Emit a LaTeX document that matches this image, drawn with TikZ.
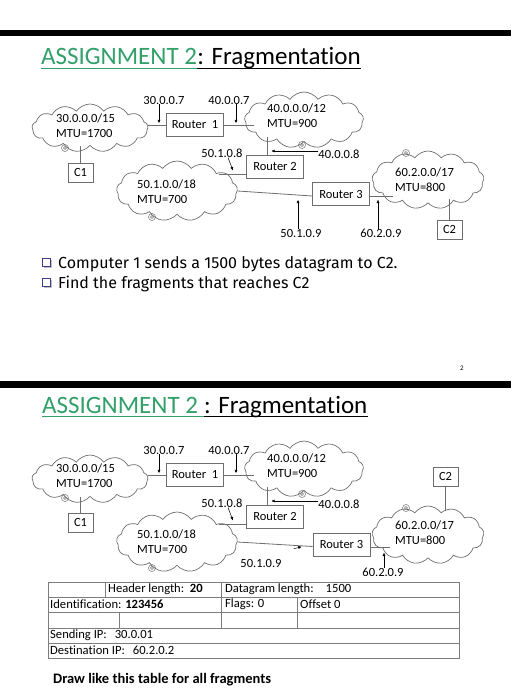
\documentclass[tikz,border=0pt]{standalone}
\usepackage{fontspec}
\setmainfont[Ligatures=NoCommon]{Carlito}
\newfontfamily\bulletfont{Fira Sans}
\usetikzlibrary{shapes.symbols,arrows.meta,positioning}

\definecolor{titlegreen}{RGB}{50,160,105}
\definecolor{linegray}{RGB}{110,110,110}
\definecolor{tablegray}{RGB}{125,125,125}
\definecolor{bulletblue}{RGB}{60,60,140}

\tikzset{
  heading/.style={inner sep=0pt, anchor=base west, font=\fontsize{25}{30}\selectfont},
  netcloud/.style={cloud, cloud puffs=13, cloud puff arc=110, cloud ignores aspect, draw=linegray, line width=0.7pt, inner sep=0pt},
  netlabel/.style={align=left, inner sep=0pt, anchor=west, font=\fontsize{12.5}{15}\selectfont},
  router/.style={draw=linegray, line width=0.7pt, minimum width=57pt, minimum height=23pt, inner sep=0pt, font=\fontsize{12.5}{15}\selectfont},
  pc/.style={draw=linegray, line width=0.7pt, minimum width=25pt, minimum height=19pt, inner sep=0pt, font=\fontsize{12.5}{15}\selectfont},
  addr/.style={inner sep=0pt, font=\fontsize{12.5}{15}\selectfont},
  link/.style={draw=linegray, line width=0.8pt},
  pin/.style={draw=black, line width=0.5pt, -{Latex[length=3.5pt,width=3pt]}},
  curl/.style={draw=linegray, line width=0.5pt},
  bullettext/.style={inner sep=0pt, anchor=base west, font=\bulletfont\fontsize{16}{18}\selectfont},
  cell/.style={inner sep=0pt, anchor=west, font=\fontsize{12.6}{14}\selectfont},
}

\begin{document}
\begin{tikzpicture}[x=1pt, y=-1pt]

  \useasboundingbox (0,0) rectangle (511,700);

  % The black bars between the slides
  \fill (0,30) rectangle (511,36);
  \fill (0,381) rectangle (511,388);

  % ---------------- first slide ----------------
  \node[heading] (title1a) at (41,65) {\color{titlegreen}ASSIGNMENT 2};
  \node[heading] (title1b) at (title1a.base east) {: Fragmentation};
  \draw[titlegreen, line width=0.8pt] ([yshift=-3pt]title1a.base west) -- ([yshift=-3pt]title1a.base east);
  \draw[line width=0.8pt] ([yshift=-3pt]title1b.base west) -- ([yshift=-3pt]title1b.base east);

  % The four networks
  \node[netcloud, minimum width=116pt, minimum height=48pt] (net1) at (90,128) {};
  \node[netcloud, minimum width=119pt, minimum height=56pt] (net2) at (304,120) {};
  \node[netcloud, minimum width=121pt, minimum height=60pt] (net3) at (177,191) {};
  \node[netcloud, minimum width=112pt, minimum height=58pt] (net4) at (428,180) {};
  \node[netlabel] (net1txt) at (56,125.5) {30.0.0.0/15\\MTU=1700};
  \node[netlabel] (net2txt) at (267,115.5) {40.0.0.0/12\\MTU=900};
  \node[netlabel] (net3txt) at (137,192) {50.1.0.0/18\\MTU=700};
  \node[netlabel] (net4txt) at (395,180) {60.2.0.0/17\\MTU=800};

  % Small curls on the clouds
  \draw[curl] (65,148) circle (3.5) (65,148) circle (1.5);
  \draw[curl] (302,145) circle (3.5) (302,145) circle (1.5);
  \draw[curl] (152,217) circle (3.5) (152,217) circle (1.5);
  \draw[curl] (406,153) circle (3.5) (406,153) circle (1.5);

  % Routers and computers
  \node[router] (router1) at (195,125) {Router~ 1};
  \node[router] (router2) at (275,166.5) {Router 2};
  \node[router] (router3) at (341,194) {Router 3};
  \node[pc] (pc1) at (80.5,172.5) {C1};
  \node[pc] (pc2) at (449.5,229.5) {C2};

  % Links
  \draw[link] (pc1.north) -- (pc1.north |- net1.south);
  \draw[link] (router1.west) -- (router1.west -| net1.east);
  \draw[link] (router1.east) -- ++(30,0);
  \draw[link] ([xshift=-8pt]router2.north) -- ++(0,-18);
  \draw[link] ([yshift=-8pt]router2.west) -- ++(-27,0);
  \draw[link] (net3.east) -- ([yshift=-2pt]router3.west);
  \draw[link] ([yshift=-2pt]router3.east) -- ++(23,0);
  \draw[link] (pc2.north) -- ++(0,-21);

  % Interface addresses
  \node[addr] (if307) at (164,100) {30.0.0.7};
  \node[addr] (if407) at (229,100) {40.0.0.7};
  \node[addr] (if408) at (339,154) {40.0.0.8};
  \node[addr] (if508) at (222,153) {50.1.0.8};
  \node[addr] (if509) at (301,233) {50.1.0.9};
  \node[addr] (if609) at (381,233) {60.2.0.9};
  \draw[pin] ([xshift=-5pt]if307.south) -- ++(0,19);
  \draw[pin] ([xshift=7pt]if407.south) -- ++(0,19);
  \draw[pin] ([yshift=3pt]if408.west) -- ++(-47,0);
  \draw[pin] ([xshift=6pt]if508.south) -- ++(5,13);
  \draw[pin] ([xshift=-3pt]if509.north) -- ++(0,-29);
  \draw[pin] ([xshift=-3pt]if609.north) -- ++(0,-29);

  % Questions
  \fill[gray!50] (43.5,259.5) rectangle (51.5,267.5);
  \draw[bulletblue, fill=white, line width=0.6pt] (42,258) rectangle (50,266);
  \fill[gray!50] (43.5,279.5) rectangle (51.5,287.5);
  \draw[bulletblue, fill=white, line width=0.6pt] (42,278) rectangle (50,286);
  \node[bullettext] (ask1) at (58,268) {Computer 1 sends a 1500 bytes datagram to C2.};
  \node[bullettext] (ask2) at (58,288) {Find the fragments that reaches C2};

  \node[font=\fontsize{7}{8}\selectfont] (pagenum) at (462,368) {2};

  % ---------------- second slide ----------------
  \node[heading] (title2a) at (42,413) {\color{titlegreen}ASSIGNMENT 2\ \null};
  \node[heading] (title2b) at (title2a.base east) {: Fragmentation};
  \draw[titlegreen, line width=0.8pt] ([yshift=-3pt]title2a.base west) -- ([yshift=-3pt]title2a.base east);
  \draw[line width=0.8pt] ([yshift=-3pt]title2b.base west) -- ([yshift=-3pt]title2b.base east);

  % The four networks
  \node[netcloud, minimum width=116pt, minimum height=48pt] (net1b) at (90,479) {};
  \node[netcloud, minimum width=119pt, minimum height=56pt] (net2b) at (304,469) {};
  \node[netcloud, minimum width=121pt, minimum height=60pt] (net3b) at (177,542) {};
  \node[netcloud, minimum width=112pt, minimum height=58pt] (net4b) at (428,535) {};
  \node[netlabel] (net1btxt) at (56,475.5) {30.0.0.0/15\\MTU=1700};
  \node[netlabel] (net2btxt) at (267,465.5) {40.0.0.0/12\\MTU=900};
  \node[netlabel] (net3btxt) at (137,542) {50.1.0.0/18\\MTU=700};
  \node[netlabel] (net4btxt) at (395,533) {60.2.0.0/17\\MTU=800};

  % Small curls on the clouds
  \draw[curl] (65,498) circle (3.5) (65,498) circle (1.5);
  \draw[curl] (302,494) circle (3.5) (302,494) circle (1.5);
  \draw[curl] (152,568) circle (3.5) (152,568) circle (1.5);
  \draw[curl] (406,508) circle (3.5) (406,508) circle (1.5);

  % Routers and computers
  \node[router] (router1b) at (195,475) {Router~ 1};
  \node[router] (router2b) at (275,516.5) {Router 2};
  \node[router] (router3b) at (341.5,544.5) {Router 3};
  \node[pc] (pc1b) at (80.5,522.5) {C1};
  \node[pc] (pc2b) at (445.5,476.5) {C2};

  % Links
  \draw[link] (pc1b.north) -- (pc1b.north |- net1b.south);
  \draw[link] (router1b.west) -- (router1b.west -| net1b.east);
  \draw[link] (router1b.east) -- ++(30,0);
  \draw[link] ([xshift=-8pt]router2b.north) -- ++(0,-18);
  \draw[link] ([yshift=-8pt]router2b.west) -- ++(-27,0);
  \draw[link] (net3b.east) -- ([yshift=-2pt]router3b.west);
  \draw[link] ([yshift=-3pt]router3b.east) -- ++(20,0);
  \draw[link] (pc2b.south) -- ++(0,25);

  % Interface addresses
  \node[addr] (if307b) at (164,450) {30.0.0.7};
  \node[addr] (if407b) at (229,450) {40.0.0.7};
  \node[addr] (if408b) at (339,504) {40.0.0.8};
  \node[addr] (if508b) at (222,503) {50.1.0.8};
  \node[addr] (if509b) at (261,563) {50.1.0.9};
  \node[addr] (if609b) at (383,572) {60.2.0.9};
  \draw[pin] ([xshift=-5pt]if307b.south) -- ++(0,19);
  \draw[pin] ([xshift=7pt]if407b.south) -- ++(0,19);
  \draw[pin] ([yshift=3pt]if408b.west) -- ++(-47,0);
  \draw[pin] ([xshift=6pt]if508b.south) -- ++(5,13);
  \draw[pin] (if509b.north east) ++(12,-10) -- ++(8,-2);
  \draw[pin] ([xshift=1pt]if609b.north) -- ++(0,-15);

  % The datagram header table
  \draw[tablegray, line width=0.6pt] (48,582) rectangle (459,658);
  \draw[tablegray, line width=0.6pt] (48,597) -- (459,597) (48,612) -- (459,612)
    (48,628) -- (459,628) (48,643) -- (459,643);
  \draw[tablegray, line width=0.6pt] (105,582) -- (105,597) (221,582) -- (221,628)
    (297,597) -- (297,628) (119,612) -- (119,628);
  \node[cell] (hdrlen) at (108,589.5) {Header length:\ \ \textbf{20}};
  \node[cell] (dglen) at (225,589.5) {Datagram length:\hspace{12pt}1500};
  \node[cell] (ident) at (50,604.5) {Identification: \textbf{123456}};
  \node[cell] (flags) at (225,604.5) {Flags: 0};
  \node[cell] (offset) at (300,604.5) {Offset 0};
  \node[cell] (srcip) at (50,635.5) {Sending IP:\hspace{8pt}30.0.01};
  \node[cell] (dstip) at (50,650.5) {Destination IP:\hspace{8pt}60.2.0.2};

  \node[anchor=west, inner sep=0pt, font=\bfseries\fontsize{14.5}{17}\selectfont] (task) at (53,680) {Draw like this table for all fragments};

\end{tikzpicture}
\end{document}
